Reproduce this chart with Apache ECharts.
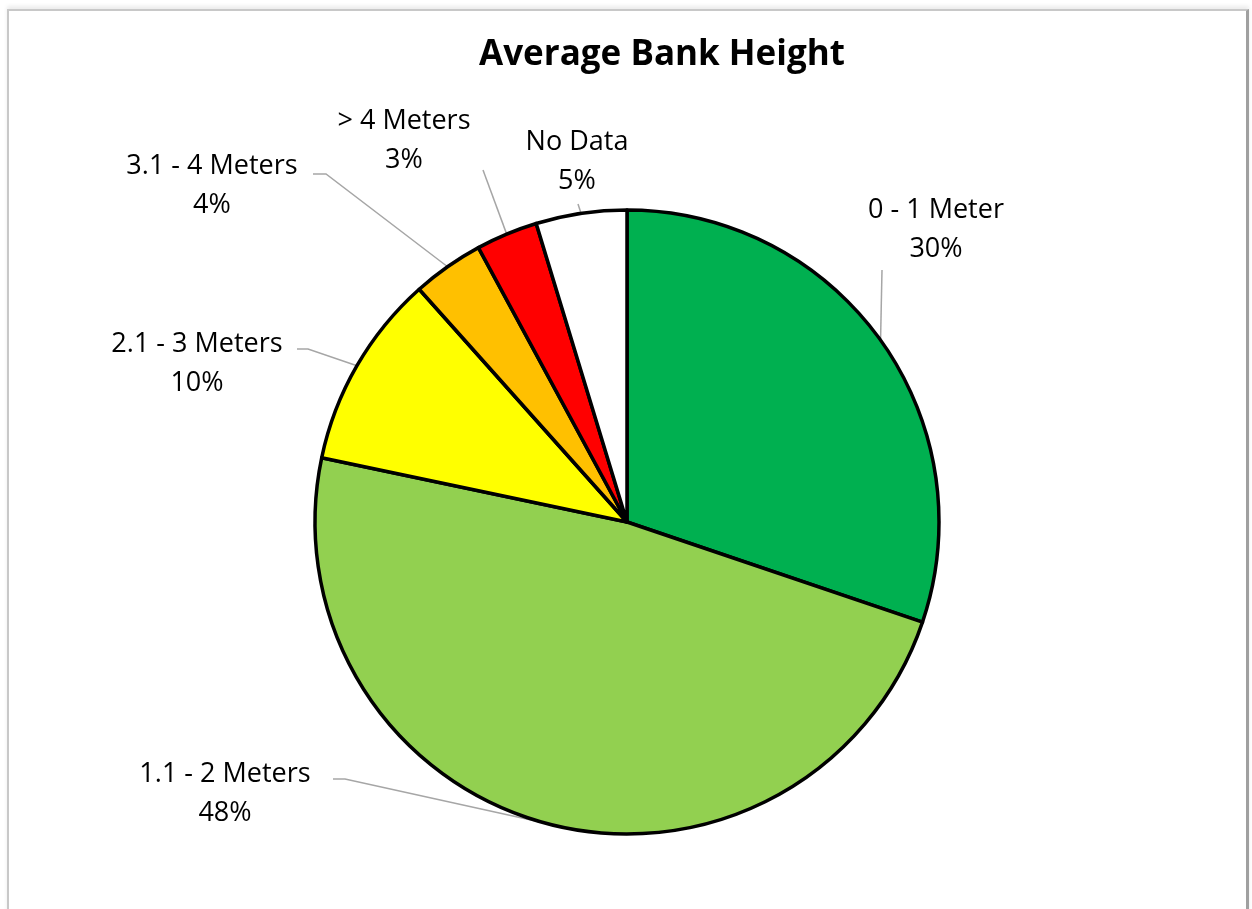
<!DOCTYPE html>
<html>
<head>
<meta charset="utf-8">
<script src="https://cdn.jsdelivr.net/npm/echarts@6/dist/echarts.min.js"></script>
<style>
html,body{margin:0;padding:0;background:#fff;}
#frame{position:absolute;left:7px;top:9px;width:1237px;height:920px;border-left:2px solid #c8c8c8;border-top:2px solid #c8c8c8;border-right:3px solid #a0a0a0;box-shadow:0 -3px 4px rgba(0,0,0,0.08);}
#chart{position:absolute;left:0;top:0;width:1252px;height:909px;}
</style>
</head>
<body>
<div id="frame"></div>
<div id="chart"></div>
<script>
// ---- data ----
var title = 'Average Bank Height';
var categories = ['0 - 1 Meter', '1.1 - 2 Meters', '2.1 - 3 Meters', '3.1 - 4 Meters', '> 4 Meters', 'No Data'];
var values = [30.2, 48.1, 10.1, 3.7, 3.2, 4.7];
var colors = ['#00B050', '#92D050', '#FFFF00', '#FFC000', '#FF0000', '#FFFFFF'];

// ---- label placement (style only) ----
var labelPos = [
  {x: 936, y: 230, line: [[882, 270]]},
  {x: 225, y: 794, line: [[345, 779], [333, 779]]},
  {x: 197, y: 364, line: [[308, 349], [297, 349]]},
  {x: 212, y: 186, line: [[326, 174], [313, 174]]},
  {x: 404, y: 141, line: [[483, 170]]},
  {x: 577, y: 162, line: [[578, 204]]}
];

var FONT = '"Open Sans", "Noto Sans", sans-serif';
var chart = echarts.init(document.getElementById('chart'), null, {renderer: 'canvas'});
chart.setOption({
  backgroundColor: 'transparent',
  animation: false,
  title: {
    text: title,
    left: 657, top: 33, textAlign: 'center',
    textStyle: {fontFamily: FONT, fontSize: 35, fontWeight: 'bold', color: '#000'}
  },
  series: [{
    type: 'pie',
    center: [627, 522],
    radius: 312,
    startAngle: 90,
    clockwise: true,
    percentPrecision: 0,
    data: categories.map(function (c, i) {
      return {name: c, value: values[i], itemStyle: {color: colors[i]}};
    }),
    itemStyle: {borderColor: '#000', borderWidth: 3.5},
    label: {
      show: true, position: 'outside',
      formatter: '{b}\n{d}%',
      fontFamily: FONT, fontSize: 27, lineHeight: 39, color: '#000', align: 'center'
    },
    labelLine: {show: true, lineStyle: {color: '#a6a6a6', width: 1.5}},
    emphasis: {disabled: true},
    labelLayout: function (params) {
      var p = labelPos[params.dataIndex];
      var pts = params.labelLinePoints;
      var anchor = pts ? pts[0] : [p.x, p.y];
      var line = [anchor].concat(p.line);
      if (line.length < 3) line.push(line[line.length - 1]);
      return {x: p.x, y: p.y, align: 'center', verticalAlign: 'middle', labelLinePoints: line, hideOverlap: false};
    }
  }]
});
</script>
</body>
</html>
